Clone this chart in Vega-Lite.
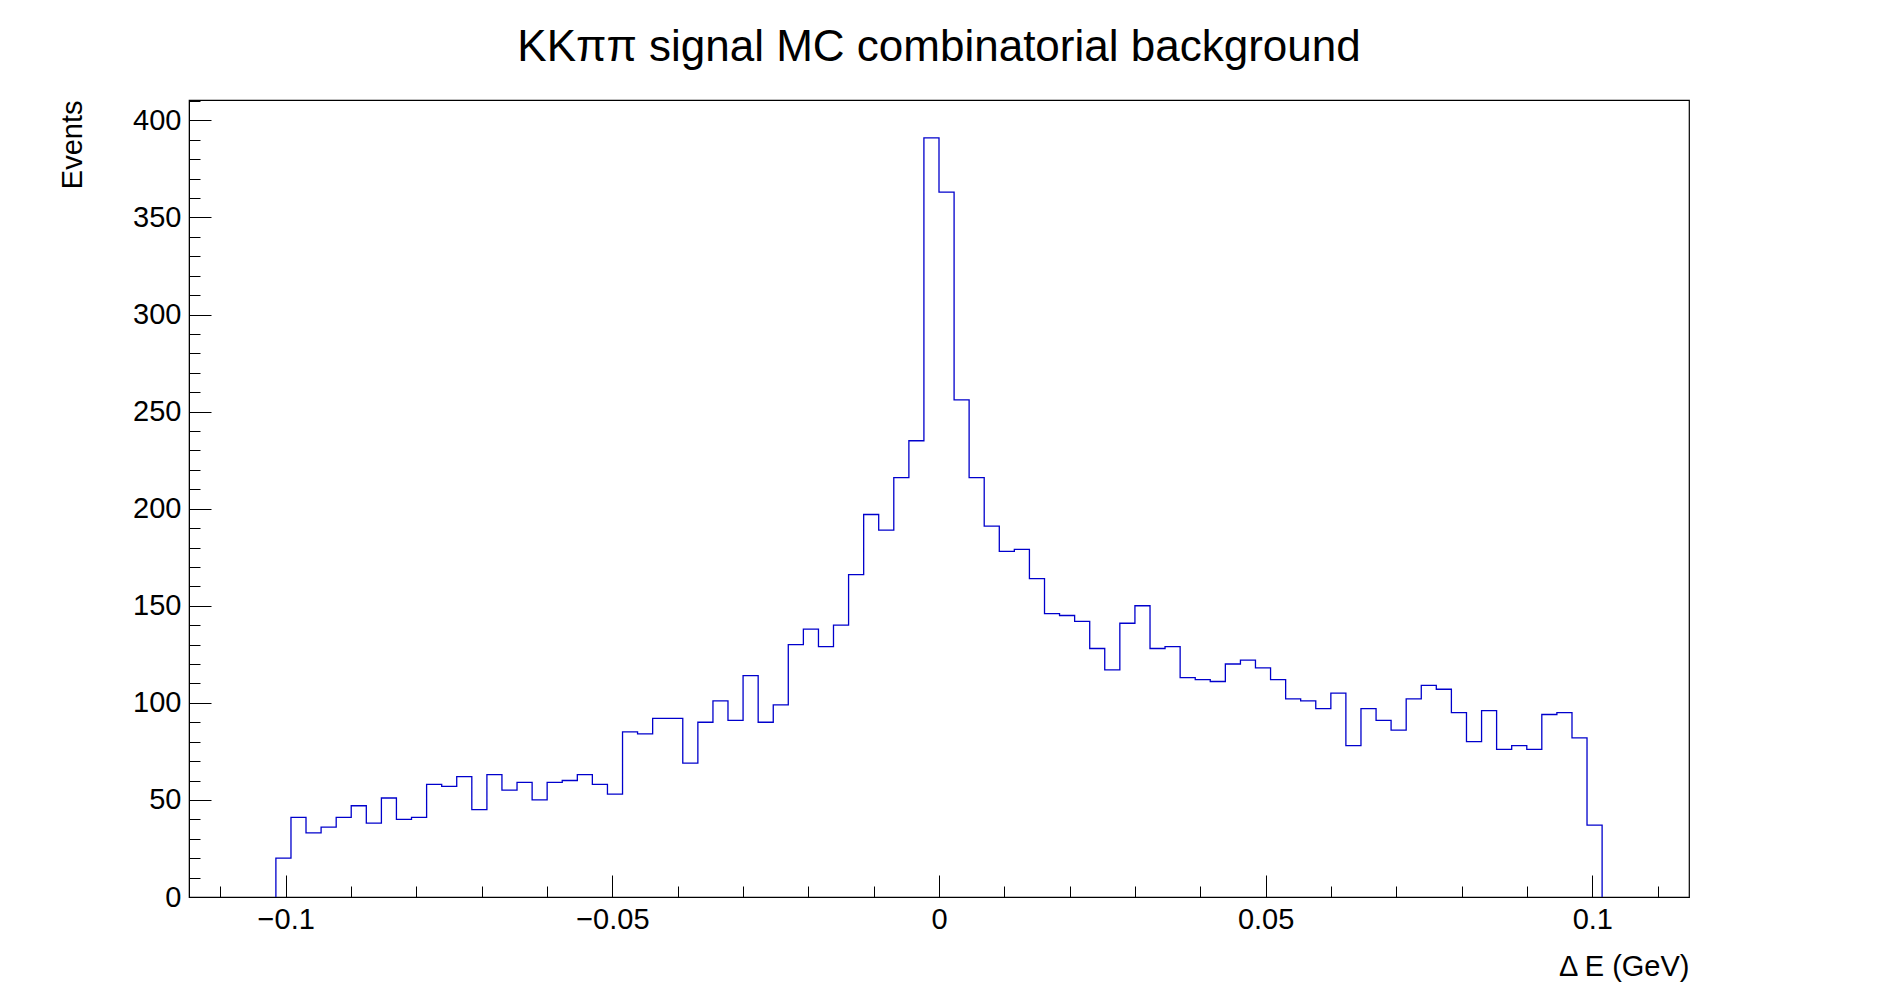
{
  "$schema": "https://vega.github.io/schema/vega-lite/v6.json",
  "width": 1500,
  "height": 797,
  "autosize": {"type": "none"},
  "padding": {"left": 189, "top": 100, "right": 189, "bottom": 95},
  "background": "white",
  "title": {"text": "KKππ signal MC combinatorial background", "font": "Liberation Sans", "fontSize": 44, "fontWeight": "normal", "anchor": "middle", "offset": 30, "color": "black"},
  "config": {"view": {"stroke": "black", "strokeWidth": 1.2}, "axis": {"labelFont": "Liberation Sans", "titleFont": "Liberation Sans", "labelFontSize": 29, "titleFontSize": 29, "titleFontWeight": "normal", "labelColor": "black", "titleColor": "black", "domainColor": "black", "tickColor": "black", "grid": false}},
  "resolve": {"axis": {"x": "independent", "y": "independent"}},
  "data": {"values": [
    {"x": -0.10150, "n": 0},
    {"x": -0.10150, "n": 20}, {"x": -0.09919, "n": 41}, {"x": -0.09689, "n": 33}, {"x": -0.09458, "n": 36}, {"x": -0.09227, "n": 41},
    {"x": -0.08997, "n": 47}, {"x": -0.08766, "n": 38}, {"x": -0.08535, "n": 51}, {"x": -0.08305, "n": 40}, {"x": -0.08074, "n": 41},
    {"x": -0.07843, "n": 58}, {"x": -0.07612, "n": 57}, {"x": -0.07382, "n": 62}, {"x": -0.07151, "n": 45}, {"x": -0.06920, "n": 63},
    {"x": -0.06690, "n": 55}, {"x": -0.06459, "n": 59}, {"x": -0.06228, "n": 50}, {"x": -0.05998, "n": 59}, {"x": -0.05767, "n": 60},
    {"x": -0.05536, "n": 63}, {"x": -0.05306, "n": 58}, {"x": -0.05075, "n": 53}, {"x": -0.04844, "n": 85}, {"x": -0.04614, "n": 84},
    {"x": -0.04383, "n": 92}, {"x": -0.04152, "n": 92}, {"x": -0.03922, "n": 69}, {"x": -0.03691, "n": 90}, {"x": -0.03460, "n": 101},
    {"x": -0.03230, "n": 91}, {"x": -0.02999, "n": 114}, {"x": -0.02768, "n": 90}, {"x": -0.02537, "n": 99}, {"x": -0.02307, "n": 130},
    {"x": -0.02076, "n": 138}, {"x": -0.01845, "n": 129}, {"x": -0.01615, "n": 140}, {"x": -0.01384, "n": 166}, {"x": -0.01153, "n": 197},
    {"x": -0.00923, "n": 189}, {"x": -0.00692, "n": 216}, {"x": -0.00461, "n": 235}, {"x": -0.00231, "n": 391}, {"x": 0.00000, "n": 363},
    {"x": 0.00231, "n": 256}, {"x": 0.00461, "n": 216}, {"x": 0.00692, "n": 191}, {"x": 0.00923, "n": 178}, {"x": 0.01153, "n": 179},
    {"x": 0.01384, "n": 164}, {"x": 0.01615, "n": 146}, {"x": 0.01845, "n": 145}, {"x": 0.02076, "n": 142}, {"x": 0.02307, "n": 128},
    {"x": 0.02537, "n": 117}, {"x": 0.02768, "n": 141}, {"x": 0.02999, "n": 150}, {"x": 0.03230, "n": 128}, {"x": 0.03460, "n": 129},
    {"x": 0.03691, "n": 113}, {"x": 0.03922, "n": 112}, {"x": 0.04152, "n": 111}, {"x": 0.04383, "n": 120}, {"x": 0.04614, "n": 122},
    {"x": 0.04844, "n": 118}, {"x": 0.05075, "n": 112}, {"x": 0.05306, "n": 102}, {"x": 0.05536, "n": 101}, {"x": 0.05767, "n": 97},
    {"x": 0.05998, "n": 105}, {"x": 0.06228, "n": 78}, {"x": 0.06459, "n": 97}, {"x": 0.06690, "n": 91}, {"x": 0.06920, "n": 86},
    {"x": 0.07151, "n": 102}, {"x": 0.07382, "n": 109}, {"x": 0.07612, "n": 107}, {"x": 0.07843, "n": 95}, {"x": 0.08074, "n": 80},
    {"x": 0.08305, "n": 96}, {"x": 0.08535, "n": 76}, {"x": 0.08766, "n": 78}, {"x": 0.08997, "n": 76}, {"x": 0.09227, "n": 94},
    {"x": 0.09458, "n": 95}, {"x": 0.09689, "n": 82}, {"x": 0.09919, "n": 37},
    {"x": 0.10150, "n": 0}
  ]},
  "layer": [
    {
      "mark": {"type": "line", "interpolate": "step-after", "color": "#0000cc", "strokeWidth": 1.3},
      "encoding": {
        "x": {"field": "x", "type": "quantitative", "scale": {"domain": [-0.1148, 0.1148], "nice": false, "zero": false},
          "axis": {"orient": "bottom", "values": [-0.1, -0.05, 0, 0.05, 0.1], "format": "~g", "labelExpr": "replace(datum.label, '-', '−')", "tickSize": -22, "labelPadding": 30, "title": "Δ E (GeV)", "titleAnchor": "end", "titleAlign": "right", "titleX": 1500, "titleY": 55}},
        "y": {"field": "n", "type": "quantitative", "scale": {"domain": [0, 410.5], "nice": false},
          "axis": {"orient": "left", "values": [0, 50, 100, 150, 200, 250, 300, 350, 400], "tickSize": -22, "labelPadding": 30, "title": "Events", "titleAngle": -90, "titleAlign": "right", "titleBaseline": "middle", "titleX": -117, "titleY": 0}}
      }
    },
    {
      "mark": {"type": "point", "opacity": 0},
      "encoding": {
        "x": {"field": "x", "type": "quantitative",
          "axis": {"orient": "bottom", "values": [-0.11, -0.09, -0.08, -0.07, -0.06, -0.04, -0.03, -0.02, -0.01, 0.01, 0.02, 0.03, 0.04, 0.06, 0.07, 0.08, 0.09, 0.11], "labels": false, "tickSize": -11, "title": null, "domain": false}},
        "y": {"field": "n", "type": "quantitative",
          "axis": {"orient": "left", "values": [10, 20, 30, 40, 60, 70, 80, 90, 110, 120, 130, 140, 160, 170, 180, 190, 210, 220, 230, 240, 260, 270, 280, 290, 310, 320, 330, 340, 360, 370, 380, 390, 410], "labels": false, "tickSize": -11, "title": null, "domain": false}}
      }
    }
  ]
}
